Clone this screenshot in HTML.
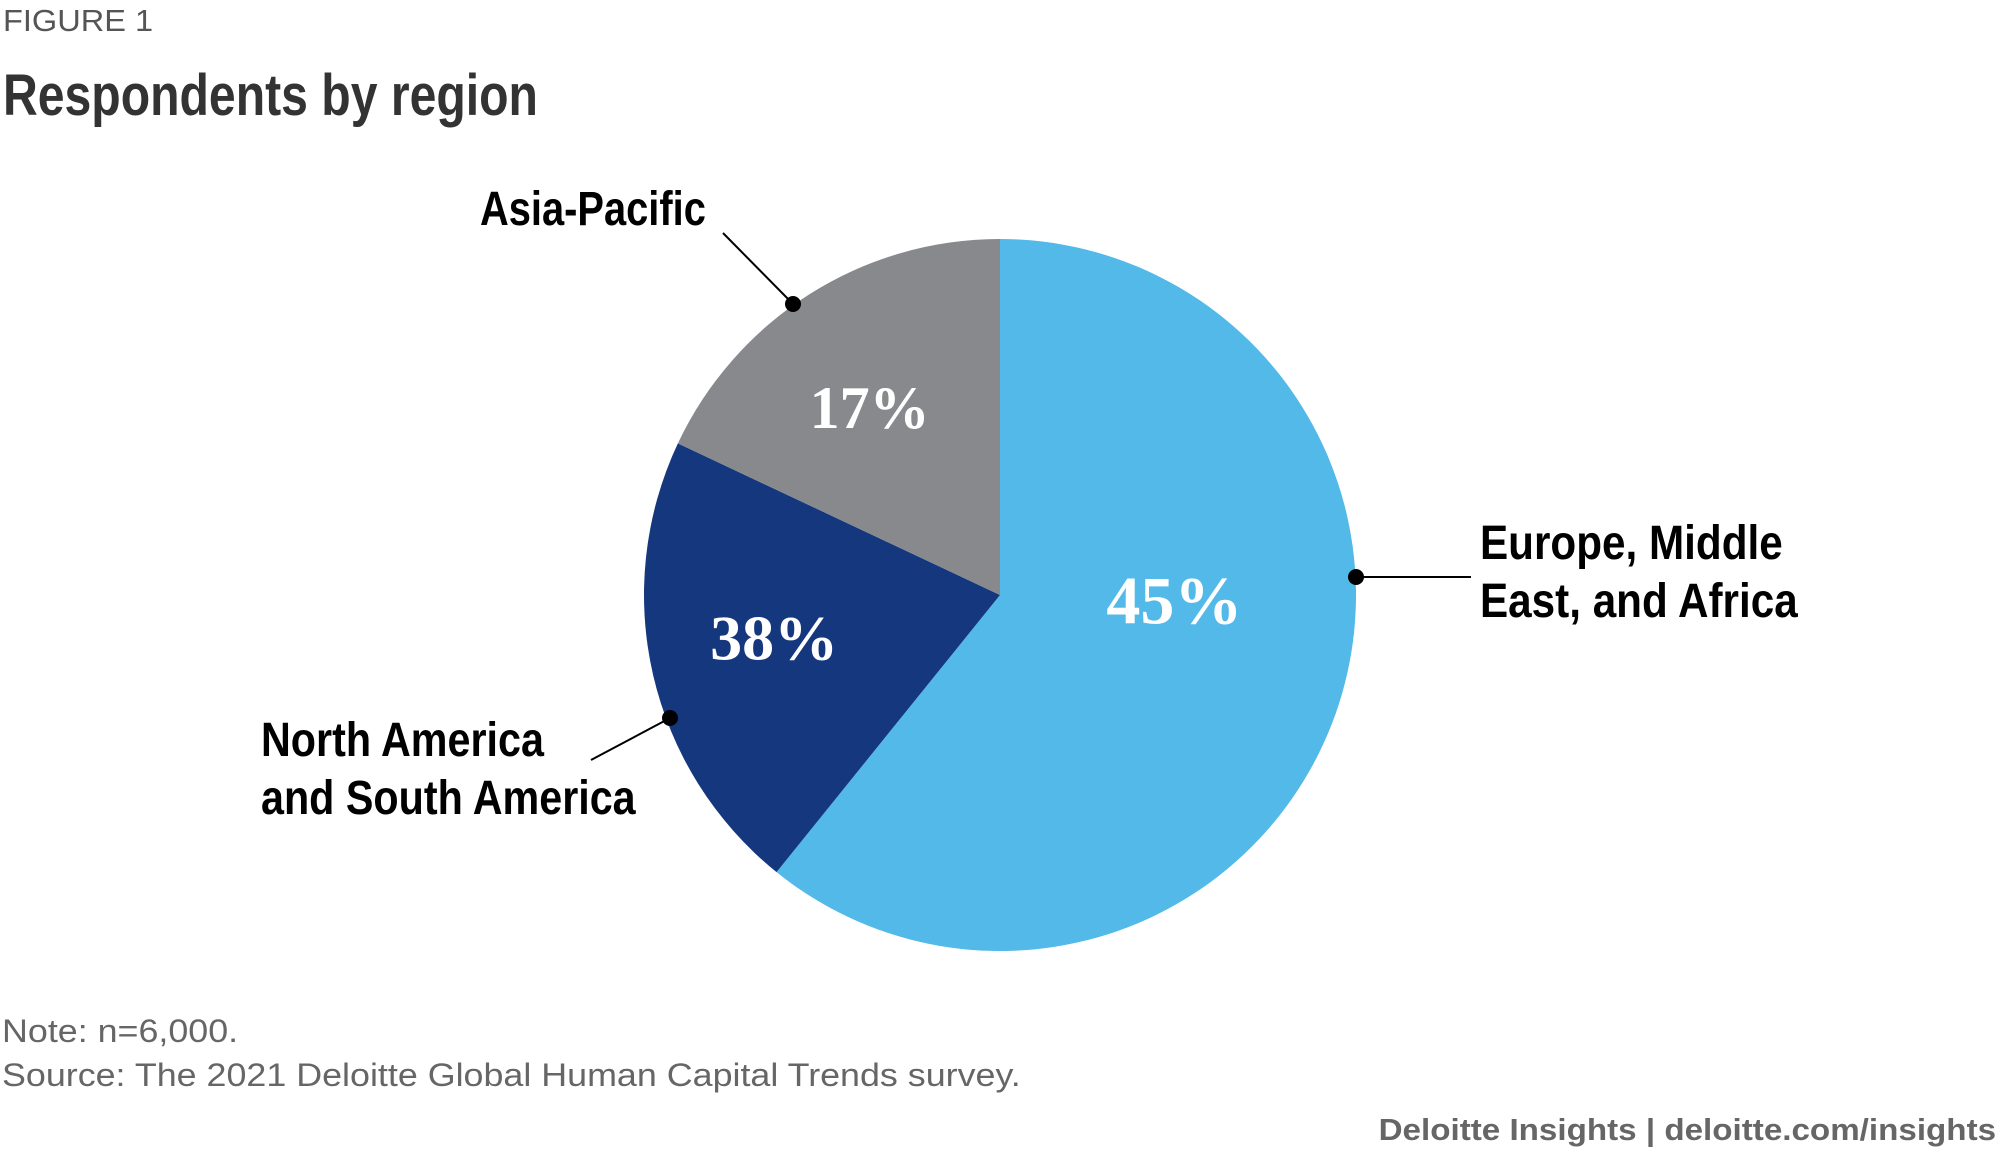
<!DOCTYPE html>
<html><head><meta charset="utf-8"><style>
body{margin:0;width:2000px;height:1153px;background:#fff;overflow:hidden;position:relative;font-family:"Liberation Sans",sans-serif}
.t{position:absolute;white-space:nowrap;transform-origin:0 0}
.lab{font-weight:bold;font-size:48px;color:#000;line-height:58px;transform:scaleX(0.85)}
</style></head><body>
<div class="t" style="left:3px;top:3px;font-size:31px;color:#555;transform:scaleX(1.05)">FIGURE 1</div>
<div class="t" style="left:3px;top:62px;font-weight:bold;font-size:58px;color:#333;transform:scaleX(0.83)">Respondents by region</div>
<svg id="chart" width="2000" height="1153" style="position:absolute;left:0;top:0"></svg>
<div class="t lab" style="left:480px;top:181px;transform:scaleX(0.83)">Asia-Pacific</div>
<div class="t lab" style="left:1480px;top:515px;transform:scaleX(0.88)">Europe, Middle<br>East, and Africa</div>
<div class="t lab" style="left:261px;top:712px;transform:scaleX(0.86)">North America<br>and South America</div>
<div class="t" style="left:2px;top:1013px;font-size:32px;color:#666;transform:scaleX(1.12)">Note: n=6,000.</div>
<div class="t" style="left:2px;top:1057px;font-size:32px;color:#666;transform:scaleX(1.12)">Source: The 2021 Deloitte Global Human Capital Trends survey.</div>
<div class="t" style="right:4px;top:1112px;font-size:31px;font-weight:bold;color:#666;transform-origin:100% 0;transform:scaleX(1.07)">Deloitte Insights | deloitte.com/insights</div>
<script>
const categories=["Europe, Middle East, and Africa","North America and South America","Asia-Pacific"];
const printedValues=["45%","38%","17%"];
const sliceShares=[60.8,21.2,18.0];
const colors=["#52b9e9","#14377d","#87898c"];
const svg=document.getElementById('chart');
const NS='http://www.w3.org/2000/svg';
const cx=1000,cy=595,r=356;
const total=sliceShares.reduce((a,b)=>a+b,0);
function pt(frac,rad){const a=frac*2*Math.PI;return [cx+rad*Math.sin(a),cy-rad*Math.cos(a)];}
let acc=0;
const labelR=[0.49,0.646,0.64];
const labelShift=[-0.049,0.006,-0.007];
const fs=[68,64,60];
sliceShares.forEach((v,i)=>{
 const s=acc/total,e=(acc+v)/total;acc+=v;
 const p0=pt(s,r),p1=pt(e,r);
 const path=document.createElementNS(NS,'path');
 path.setAttribute('d',`M${cx},${cy}L${p0[0]},${p0[1]}A${r},${r} 0 ${e-s>0.5?1:0} 1 ${p1[0]},${p1[1]}Z`);
 path.setAttribute('fill',colors[i]);
 
 
 svg.appendChild(path);
 const m=(s+e)/2+labelShift[i];const lp=pt(m,r*labelR[i]);
 const tx=document.createElementNS(NS,'text');
 tx.setAttribute('x',lp[0]);tx.setAttribute('y',lp[1]);
 tx.setAttribute('text-anchor','middle');tx.setAttribute('dominant-baseline','central');
 tx.setAttribute('fill','#fff');tx.setAttribute('font-family','"Liberation Serif",serif');
 tx.setAttribute('font-weight','bold');tx.setAttribute('font-size',fs[i]);
 tx.textContent=printedValues[i];
 
 
 svg.appendChild(tx);
});
const leaders=[[1356,577,1471,577],[670,718,591,760],[793,304,723,233]];
leaders.forEach((l,i)=>{
 const ln=document.createElementNS(NS,'line');
 ln.setAttribute('x1',l[0]);ln.setAttribute('y1',l[1]);ln.setAttribute('x2',l[2]);ln.setAttribute('y2',l[3]);
 ln.setAttribute('stroke','#000');ln.setAttribute('stroke-width','2');
 
 
 svg.appendChild(ln);
 const c=document.createElementNS(NS,'circle');
 c.setAttribute('cx',l[0]);c.setAttribute('cy',l[1]);c.setAttribute('r',8);c.setAttribute('fill','#000');
 
 
 svg.appendChild(c);
});
</script>
</body></html>
